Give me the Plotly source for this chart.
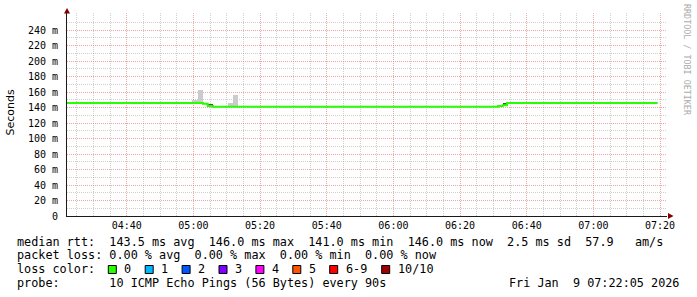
import plotly.graph_objects as go
import pandas as pd

DAY = "2026-01-09 "

# ---- data ----
range_start = "04:22:05"
range_end = "07:22:05"

# median RTT (ms), step line: value holds from each time to the next
median_times = ["04:22:05", "05:02:53", "05:04:17", "05:05:53",
                "06:31:23", "06:32:47", "06:34:05", "07:19:17"]
median_rtt_ms = [146, 145, 142, 141, 142, 143, 146, 146]

# visible smoke (spread of individual pings) per step
smoke_start = ["04:59:41", "05:01:17", "05:04:17", "05:10:17", "05:11:53", "06:32:47"]
smoke_end = ["05:01:17", "05:02:53", "05:05:53", "05:11:53", "05:13:29", "06:34:05"]
smoke_low = [146, 146, 142, 141, 141, 143]
smoke_high = [150, 162.5, 145, 146, 156, 146]
smoke_density = ["low", "low", "high", "low", "low", "high"]

y_tick_values = [0, 20, 40, 60, 80, 100, 120, 140, 160, 180, 200, 220, 240]
y_tick_labels = ["0", "20 m", "40 m", "60 m", "80 m", "100 m", "120 m", "140 m",
                 "160 m", "180 m", "200 m", "220 m", "240 m"]
y_minor_values = [10, 30, 50, 70, 90, 110, 130, 150, 170, 190, 210, 230, 250]

rtt_avg, rtt_max, rtt_min, rtt_now, rtt_sd, rtt_ams = 143.5, 146.0, 141.0, 146.0, 2.5, 57.9
loss_avg, loss_max, loss_min, loss_now = 0.00, 0.00, 0.00, 0.00

loss_labels = ["0", "1", "2", "3", "4", "5", "6-9", "10/10"]
loss_colors = ["#26ff00", "#00b8ff", "#0059ff", "#7e00ff", "#ff00ff", "#ff5500", "#ff0000", "#a10000"]

probe_text = "10 ICMP Echo Pings (56 Bytes) every 90s"
stamp_text = "Fri Jan  9 07:22:05 2026"
watermark = "RRDTOOL / TOBI OETIKER"

# ---- geometry helpers (pixel -> paper) ----
W, H = 697, 297
ML, MR, MT, MB = 67, 30, 13, 81
PW, PH = W - ML - MR, H - MT - MB


def px(x):
    return (x - ML) / PW


def py(y):
    return (H - MB - y) / PH


def nb(s):
    return s.replace(" ", "\u00a0")


MONO = "DejaVu Sans Mono"

fig = go.Figure()

# smoke bars
s0 = pd.to_datetime([DAY + t for t in smoke_start])
s1 = pd.to_datetime([DAY + t for t in smoke_end])
mid = s0 + (s1 - s0) / 2
dur = [(b - a).total_seconds() * 1000 for a, b in zip(s0, s1)]
shade = {"low": "#cbcbcb", "high": "#505050"}
fig.add_trace(go.Bar(
    x=mid, y=[h - l for h, l in zip(smoke_high, smoke_low)], base=smoke_low,
    width=dur, marker=dict(color=[shade[d] for d in smoke_density], line=dict(width=0)),
    hoverinfo="skip"))

# median line
fig.add_trace(go.Scatter(
    x=[DAY + t for t in median_times], y=median_rtt_ms, mode="lines",
    line=dict(color=loss_colors[0], width=2, shape="hv")))

major_grid = "rgba(222,80,80,0.5)"
minor_grid = "rgba(143,143,143,0.42)"

fig.update_layout(
    width=W, height=H,
    margin=dict(l=ML, r=MR, t=MT, b=MB, pad=0),
    paper_bgcolor="white", plot_bgcolor="white",
    showlegend=False, barmode="overlay", bargap=0,
    font=dict(family=MONO, size=10, color="black"),
    xaxis=dict(
        type="date", range=[DAY + range_start, DAY + range_end],
        tickformat="%H:%M", tick0=DAY + "04:40", dtick=20 * 60 * 1000,
        showgrid=True, gridcolor=major_grid, griddash="1px,1px", gridwidth=1,
        minor=dict(tick0=DAY + "04:40", dtick=5 * 60 * 1000, showgrid=True,
                   gridcolor=minor_grid, griddash="1px,1px", gridwidth=1),
        showline=True, linecolor="#1a1a1a", linewidth=1, zeroline=False,
        ticks="", tickfont=dict(family=MONO, size=10, color="black"),
    ),
    yaxis=dict(
        range=[0, 262], tickmode="array", tickvals=y_tick_values, ticktext=y_tick_labels,
        showgrid=True, gridcolor=major_grid, griddash="1px,1px", gridwidth=1,
        minor=dict(tickmode="array", tickvals=y_minor_values, showgrid=True,
                   gridcolor=minor_grid, griddash="1px,1px", gridwidth=1),
        showline=True, linecolor="#1a1a1a", linewidth=1, zeroline=False,
        ticks="outside", ticklen=6, tickcolor="rgba(0,0,0,0)",
        tickfont=dict(family=MONO, size=10, color="black"),
    ),
)

shapes = []
# axis arrows
shapes.append(dict(type="path", xref="paper", yref="paper",
                   path=f"M {px(64)},{py(13.5)} L {px(67)},{py(8)} L {px(70)},{py(13.5)} Z",
                   fillcolor="#800000", line=dict(width=0)))
shapes.append(dict(type="path", xref="paper", yref="paper",
                   path=f"M {px(668)},{py(213)} L {px(673.5)},{py(216)} L {px(668)},{py(219)} Z",
                   fillcolor="#800000", line=dict(width=0)))

ann = []
LEG_FS = 11.8
line_y = [241.5, 255.3, 269.3, 283.3]

line1 = (f"median rtt:  {rtt_avg:.1f} ms avg  {rtt_max:.1f} ms max  {rtt_min:.1f} ms min  "
         f"{rtt_now:.1f} ms now  {rtt_sd:.1f} ms sd  {rtt_ams:.1f}   am/s")
line2 = (f"packet loss: {loss_avg:.2f} % avg  {loss_max:.2f} % max  {loss_min:.2f} % min  "
         f"{loss_now:.2f} % now")
line4 = f"probe:       {probe_text}"

for txt, yy in [(line1, line_y[0]), (line2, line_y[1]), ("loss color:", line_y[2]), (line4, line_y[3])]:
    ann.append(dict(text=nb(txt), x=px(15), y=py(yy), xref="paper", yref="paper",
                    xanchor="left", yanchor="middle", showarrow=False,
                    font=dict(family=MONO, size=LEG_FS, color="black")))

ann.append(dict(text=nb(stamp_text), x=px(681), y=py(line_y[3]), xref="paper", yref="paper",
                xanchor="right", yanchor="middle", showarrow=False,
                font=dict(family=MONO, size=LEG_FS, color="black")))

# loss color legend boxes
box_x = [108.3, 145.2, 182.1, 219.0, 255.9, 292.8, 329.7, 381.7]
for bx, lab, col in zip(box_x, loss_labels, loss_colors):
    shapes.append(dict(type="rect", xref="paper", yref="paper",
                       x0=px(bx), x1=px(bx + 8), y0=py(273.5), y1=py(265.5),
                       fillcolor=col, line=dict(color="black", width=1)))
    ann.append(dict(text=nb(lab), x=px(bx + 14), y=py(line_y[2]), xref="paper", yref="paper",
                    xanchor="left", yanchor="middle", showarrow=False,
                    font=dict(family=MONO, size=LEG_FS, color="black")))

# y axis title
ann.append(dict(text="Seconds", x=px(10.5), y=py(113), xref="paper", yref="paper",
                xanchor="center", yanchor="middle", showarrow=False, textangle=-90,
                font=dict(family="DejaVu Sans", size=11, color="black")))

# watermark
ann.append(dict(text=nb(watermark), x=px(687.5), y=py(59.5), xref="paper", yref="paper",
                xanchor="center", yanchor="middle", showarrow=False, textangle=90,
                font=dict(family=MONO, size=8.4, color="#ababab")))

fig.update_layout(shapes=shapes, annotations=ann)

fig.write_html("out.html")
